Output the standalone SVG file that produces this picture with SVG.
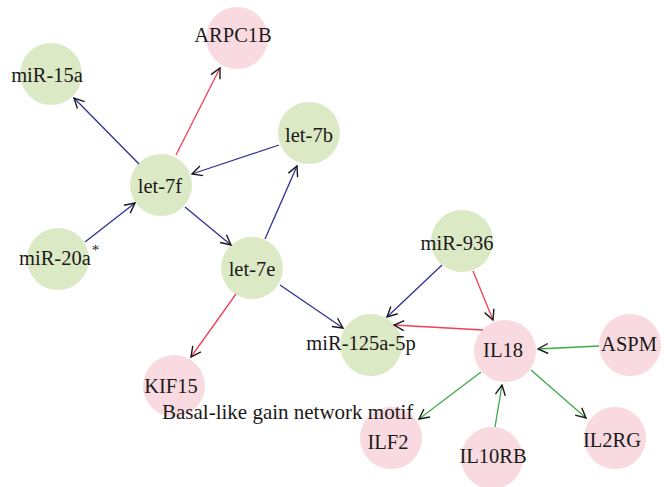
<svg xmlns="http://www.w3.org/2000/svg" width="664" height="487" viewBox="0 0 664 487">
  <defs>
    <style>
      .mirna { fill: #dce9c5; }
      .gene { fill: #f9dae0; }
      .lbl { font-family: "Liberation Serif", "Times New Roman", serif; font-size: 20.5px; fill: #1a1a1a; text-anchor: middle; }
      .edge { fill: none; stroke-width: 1.3; }
      .blue { stroke: #2e3192; }
      .red { stroke: #ee4058; }
      .green { stroke: #3eaa45; }
    </style>
    <marker id="arrow" viewBox="0 0 12 12" refX="11" refY="6" markerWidth="12" markerHeight="12" markerUnits="userSpaceOnUse" orient="auto">
      <path d="M1,1 L11,6 L1,11" fill="none" stroke="#1a1a1a" stroke-width="1.4"/>
    </marker>
  </defs>
  <rect width="664" height="487" fill="#ffffff"/>

  <!-- nodes -->
  <g id="node-miR-15a"><circle class="mirna" cx="51" cy="74" r="31"/><text class="lbl" x="47" y="82">miR-15a</text></g>
  <g id="node-ARPC1B"><circle class="gene" cx="237" cy="38" r="31"/><text class="lbl" x="233" y="42">ARPC1B</text></g>
  <g id="node-let-7b"><circle class="mirna" cx="309" cy="133" r="31"/><text class="lbl" x="309" y="142">let-7b</text></g>
  <g id="node-let-7f"><circle class="mirna" cx="161" cy="185" r="31"/><text class="lbl" x="160" y="193">let-7f</text></g>
  <g id="node-miR-20a"><circle class="mirna" cx="58" cy="259" r="31"/><text class="lbl" x="19" y="265" style="text-anchor:start">miR-20a<tspan font-size="15" dx="1" dy="-10">*</tspan></text></g>
  <g id="node-let-7e"><circle class="mirna" cx="252" cy="268" r="31"/><text class="lbl" x="252" y="276">let-7e</text></g>
  <g id="node-miR-936"><circle class="mirna" cx="462" cy="241" r="31"/><text class="lbl" x="457" y="250">miR-936</text></g>
  <g id="node-miR-125a-5p"><circle class="mirna" cx="371" cy="345" r="31"/><text class="lbl" x="361" y="350">miR-125a-5p</text></g>
  <g id="node-IL18"><circle class="gene" cx="505" cy="351" r="31"/><text class="lbl" x="503" y="357">IL18</text></g>
  <g id="node-ASPM"><circle class="gene" cx="630" cy="345" r="31"/><text class="lbl" x="629" y="351">ASPM</text></g>
  <g id="node-ILF2"><circle class="gene" cx="391" cy="438" r="31"/><text class="lbl" x="388" y="449">ILF2</text></g>
  <g id="node-IL10RB"><circle class="gene" cx="492" cy="458" r="31"/><text class="lbl" x="493" y="463">IL10RB</text></g>
  <g id="node-IL2RG"><circle class="gene" cx="615" cy="438" r="31"/><text class="lbl" x="612" y="447">IL2RG</text></g>
  <g id="node-KIF15"><circle class="gene" cx="174" cy="386" r="31"/><text class="lbl" x="171" y="393">KIF15</text></g>

  <!-- connectors -->
  <g id="connectors">
    <line class="edge blue" x1="139" y1="164" x2="74" y2="98" marker-end="url(#arrow)"/>
    <line class="edge red" x1="176" y1="155" x2="220" y2="68" marker-end="url(#arrow)"/>
    <line class="edge blue" x1="279" y1="145" x2="192" y2="174" marker-end="url(#arrow)"/>
    <line class="edge blue" x1="85" y1="242" x2="135" y2="203" marker-end="url(#arrow)"/>
    <line class="edge blue" x1="185" y1="207" x2="231" y2="245" marker-end="url(#arrow)"/>
    <line class="edge blue" x1="265" y1="239" x2="297" y2="166" marker-end="url(#arrow)"/>
    <line class="edge red" x1="236" y1="294" x2="191" y2="357" marker-end="url(#arrow)"/>
    <line class="edge blue" x1="280" y1="285" x2="343" y2="328" marker-end="url(#arrow)"/>
    <line class="edge blue" x1="442" y1="265" x2="387" y2="317" marker-end="url(#arrow)"/>
    <line class="edge red" x1="473" y1="271" x2="493" y2="320" marker-end="url(#arrow)"/>
    <line class="edge red" x1="483" y1="330" x2="394" y2="325" marker-end="url(#arrow)"/>
    <line class="edge green" x1="599" y1="346" x2="538" y2="349" marker-end="url(#arrow)"/>
    <line class="edge green" x1="481" y1="372" x2="419" y2="419" marker-end="url(#arrow)"/>
    <line class="edge green" x1="495" y1="427" x2="502" y2="385" marker-end="url(#arrow)"/>
    <line class="edge green" x1="531" y1="370" x2="586" y2="418" marker-end="url(#arrow)"/>
  </g>

  <text class="lbl" x="162" y="419" style="text-anchor:start;font-size:21px">Basal-like gain network motif</text>
</svg>
